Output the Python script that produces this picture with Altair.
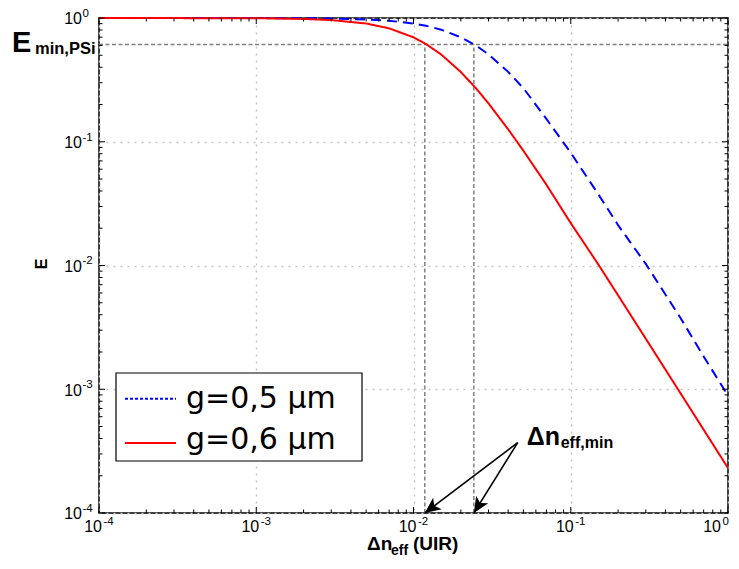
import math
import altair as alt
import pandas as pd

# ---------------- data ----------------
x_vals = [1e-4, 1e-3, 2e-3, 3e-3, 5e-3, 7e-3, 0.01, 0.012, 0.015, 0.02, 0.025,
          0.03, 0.04, 0.05, 0.07, 0.1, 0.15, 0.2, 0.3, 0.5, 0.7, 1.0]
E_g05 = [1.0, 0.9989, 0.9957, 0.9904, 0.9738, 0.950, 0.903, 0.866, 0.805, 0.699,
         0.598, 0.508, 0.367, 0.271, 0.153, 0.0815, 0.0375, 0.0212, 0.0103,
         0.00375, 0.00184, 0.00089]
E_g06 = [1.0, 0.9957, 0.983, 0.9625, 0.9025, 0.825, 0.698, 0.616, 0.507, 0.366,
         0.270, 0.204, 0.126, 0.0846, 0.045, 0.0220, 0.01016, 0.00574, 0.00256,
         0.000924, 0.000471, 0.000231]
series_names = ["g=0,5 µm", "g=0,6 µm"]
series_colors = ["#0000ff", "#ff0000"]

E_min = 0.61                    # E_min,PSi threshold
dn_min = [0.0118, 0.0242]       # Δn_eff,min for each curve
ann_x = [0.046]                 # annotation anchor (arrow start)
ann_y = [3.7e-4]

decades = [1e-4, 1e-3, 1e-2, 1e-1, 1.0]
tick_base = ["10", "10", "10", "10", "10"]
tick_exp = ["-4", "-3", "-2", "-1", "0"]
minor = [m * 10.0 ** e for e in range(-4, 0) for m in range(2, 10)]

# ---------------- layout ----------------
W, H = 629, 495
FONT = "Liberation Sans"

X_SCALE = alt.Scale(type="log", domain=[1e-4, 1.0], nice=False)
Y_SCALE = alt.Scale(type="log", domain=[1e-4, 1.0], nice=False)
GRID = dict(values=decades, grid=True, gridDash=[2, 5], gridColor="#c4c4c4",
            gridWidth=1.4, labels=False, ticks=False, domain=False, title=None)
X_AXIS = alt.Axis(**GRID)
Y_AXIS = alt.Axis(**GRID)


def xenc(f, **kw):
    return alt.X(f, type="quantitative", scale=X_SCALE, axis=X_AXIS, **kw)


def yenc(f, **kw):
    return alt.Y(f, type="quantitative", scale=Y_SCALE, axis=Y_AXIS, **kw)


# curves
curves = pd.DataFrame({
    "x": x_vals * 2,
    "E": E_g05 + E_g06,
    "series": [series_names[0]] * len(x_vals) + [series_names[1]] * len(x_vals),
})

line_layer = alt.Chart(curves).mark_line(strokeWidth=2).encode(
    x=xenc("x"),
    y=yenc("E"),
    color=alt.Color("series:N", scale=alt.Scale(domain=series_names, range=series_colors),
                    legend=None),
    strokeDash=alt.StrokeDash("series:N",
                              scale=alt.Scale(domain=series_names, range=[[10, 6], [1, 0]]),
                              legend=None),
)

# threshold lines
hline = alt.Chart(pd.DataFrame({"x0": [decades[0]], "x1": [decades[-1]], "E": [E_min]})).mark_rule(
    color="#808080", strokeDash=[4, 2.5], strokeWidth=1.5
).encode(x=xenc("x0"), x2="x1", y=yenc("E"))

vlines = alt.Chart(pd.DataFrame({"x": dn_min, "y0": [decades[0]] * 2, "y1": [E_min] * 2})).mark_rule(
    color="#808080", strokeDash=[4, 2.5], strokeWidth=1.5
).encode(x=xenc("x"), y=yenc("y0"), y2="y1")


# ticks (inside, MATLAB style)
def tick_layers(vals, length):
    df = pd.DataFrame({"v": vals})
    base = alt.Chart(df).mark_rule(color="black", strokeWidth=1)
    return [
        base.encode(x=xenc("v"), y=alt.value(H), y2=alt.value(H - length)),
        base.encode(x=xenc("v"), y=alt.value(0), y2=alt.value(length)),
        base.encode(y=yenc("v"), x=alt.value(0), x2=alt.value(length)),
        base.encode(y=yenc("v"), x=alt.value(W), x2=alt.value(W - length)),
    ]


ticks = tick_layers(decades, 6) + tick_layers(minor, 3.5)

# tick labels 10^n
lab_df = pd.DataFrame({"v": decades, "base": tick_base, "exp": tick_exp})


def xlabels(df, shift):
    a = alt.Chart(df).mark_text(align="right", baseline="alphabetic", font=FONT,
                                fontSize=16, dx=3 + shift, color="black").encode(
        x=xenc("v"), y=alt.value(H + 19), text="base:N")
    b = alt.Chart(df).mark_text(align="left", baseline="alphabetic", font=FONT,
                                fontSize=11.5, dx=4.5 + shift, color="black").encode(
        x=xenc("v"), y=alt.value(H + 12), text="exp:N")
    return [a, b]


# the last label is nudged left so that it stays inside the page
xlab_layers = xlabels(lab_df.iloc[:-1], 0) + xlabels(lab_df.iloc[-1:], -10)

ylab = alt.Chart(lab_df).mark_text(align="right", baseline="alphabetic", font=FONT,
                                   fontSize=16, dy=6.3, color="black").encode(
    y=yenc("v"), x=alt.value(-17), text="base:N")
yexp = alt.Chart(lab_df).mark_text(align="left", baseline="alphabetic", font=FONT,
                                   fontSize=11.5, dy=-1.2, color="black").encode(
    y=yenc("v"), x=alt.value(-16.5), text="exp:N")

# axis titles
one = pd.DataFrame({"k": [0]})
xt1 = alt.Chart(one).mark_text(align="left", baseline="alphabetic", font=FONT, fontSize=19,
                               fontWeight="bold", color="black").encode(
    x=alt.value(268), y=alt.value(H + 37), text=alt.value("Δn"))
xt2 = alt.Chart(one).mark_text(align="left", baseline="alphabetic", font=FONT, fontSize=14,
                               fontWeight="bold", color="black").encode(
    x=alt.value(292), y=alt.value(H + 41.5), text=alt.value("eff"))
xt3 = alt.Chart(one).mark_text(align="left", baseline="alphabetic", font=FONT, fontSize=19,
                               fontWeight="bold", color="black").encode(
    x=alt.value(314), y=alt.value(H + 37), text=alt.value("(UIR)"))
yt = alt.Chart(one).mark_text(align="center", baseline="middle", font=FONT, fontSize=16,
                              fontWeight="bold", angle=270, color="black").encode(
    x=alt.value(-57), y=alt.value(246), text=alt.value("E"))

# E_min,PSi label
emin_df = pd.DataFrame({"E": [E_min]})
em1 = alt.Chart(emin_df).mark_text(align="left", baseline="alphabetic", font=FONT, fontSize=29,
                                   fontWeight="bold", dy=7.5, color="black").encode(
    x=alt.value(-87), y=yenc("E"), text=alt.value("E"))
em2 = alt.Chart(emin_df).mark_text(align="left", baseline="alphabetic", font=FONT, fontSize=16.5,
                                   fontWeight="bold", dy=9, color="black").encode(
    x=alt.value(-64), y=yenc("E"), text=alt.value("min,PSi"))


# arrows to Δn_eff,min
def px(v):
    return W * (math.log10(v) + 4) / 4


def py(v):
    return H * (-math.log10(v)) / 4


angles = []
for xv in dn_min:
    ddx = px(xv) - px(ann_x[0])
    ddy = py(decades[0]) - py(ann_y[0])
    angles.append(math.degrees(math.atan2(ddx, -ddy)) % 360)

arr_df = pd.DataFrame({"x0": ann_x * 2, "y0": ann_y * 2, "x1": dn_min,
                       "y1": [decades[0]] * 2, "angle": angles})
arr_lines = alt.Chart(arr_df).mark_rule(color="black", strokeWidth=1.6).encode(
    x=xenc("x0"), y=yenc("y0"), x2="x1", y2="y1")
arr_heads = alt.Chart(arr_df).mark_point(
    shape="M0,0L0.45,1L0,0.75L-0.45,1Z", filled=True, color="black", opacity=1,
    size=1000, strokeWidth=0.5
).encode(x=xenc("x1"), y=yenc("y1"), angle=alt.Angle("angle:Q", scale=None))

ann_df = pd.DataFrame({"x": ann_x, "y": ann_y})
an1 = alt.Chart(ann_df).mark_text(align="left", baseline="alphabetic", font=FONT, fontSize=25,
                                  fontWeight="bold", dx=9, dy=2, color="black").encode(
    x=xenc("x"), y=yenc("y"), text=alt.value("Δn"))
an2 = alt.Chart(ann_df).mark_text(align="left", baseline="alphabetic", font=FONT, fontSize=16,
                                  fontWeight="bold", dx=43, dy=5.5, color="black").encode(
    x=xenc("x"), y=yenc("y"), text=alt.value("eff,min"))

# legend (drawn box, MATLAB style)
leg_box = alt.Chart(one).mark_rect(fill="white", stroke="black", strokeWidth=1.2).encode(
    x=alt.value(17), x2=alt.value(263), y=alt.value(355), y2=alt.value(443))
leg_layers = [leg_box]
leg_rows = [(380.7, 389.5, [3, 2]), (425, 430.5, [1, 0])]
for name, col, (sy, ty, dash) in zip(series_names, series_colors, leg_rows):
    leg_layers.append(alt.Chart(one).mark_rule(color=col, strokeWidth=2, strokeDash=dash).encode(
        x=alt.value(26), x2=alt.value(77), y=alt.value(sy)))
    leg_layers.append(alt.Chart(one).mark_text(align="left", baseline="alphabetic",
                                               font="DejaVu Sans", fontSize=30, color="black").encode(
        x=alt.value(87), y=alt.value(ty), text=alt.value(name)))

chart = alt.layer(
    hline, vlines, line_layer, *ticks, arr_lines, arr_heads,
    *xlab_layers, ylab, yexp, xt1, xt2, xt3, yt, em1, em2, an1, an2, *leg_layers
).properties(
    width=W, height=H,
    autosize=alt.AutoSizeParams(type="none"),
    padding={"left": 91, "top": 10, "right": 3, "bottom": 44},
).configure_view(stroke="black", strokeWidth=1.5)

chart.save("out.html", embed_options={"renderer": "svg", "actions": False})
